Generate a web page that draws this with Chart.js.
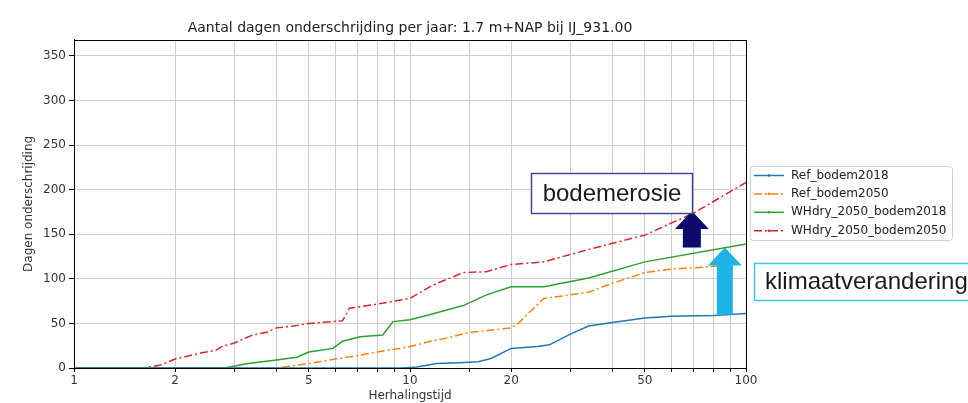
<!DOCTYPE html>
<html>
<head>
<meta charset="utf-8">
<script src="https://cdn.jsdelivr.net/npm/chart.js@4.4.0/dist/chart.umd.min.js"></script>
<style>
html,body{margin:0;padding:0;background:#fff;}
</style>
</head>
<body>
<canvas id="c" width="968" height="403"></canvas>
<script>
// chart texts
const titleText = 'Aantal dagen onderschrijding per jaar: 1.7 m+NAP bij IJ_931.00';
const xTitle = 'Herhalingstijd';
const yTitle = 'Dagen onderschrijding';
const seriesNames = ['Ref_bodem2018', 'Ref_bodem2050', 'WHdry_2050_bodem2018', 'WHdry_2050_bodem2050'];
const xTickLabels = [1, 2, 5, 10, 20, 50, 100];

// series values (return period -> days)
const ref2018X = [1, 9.5, 10.5, 12, 14, 16, 17.5, 20, 24, 26, 30, 34, 40, 50, 60, 80, 100];
const ref2018Y = [0, 0, 1, 5, 6, 7, 11, 22, 24, 26, 38, 47, 51, 56, 58, 59, 61];
const ref2050X = [1, 4, 5, 6, 7, 8, 9, 10, 11.5, 13, 15, 17, 20, 21, 25, 30, 34, 40, 50, 60, 75, 85];
const ref2050Y = [0, 0, 5, 10, 14, 18, 21, 24, 30, 34, 40, 42, 45, 50, 78, 82, 85, 95, 107, 111, 113, 115];
const whdry2018X = [1, 2.8, 3.3, 4, 4.6, 5, 5.9, 6.3, 7.1, 8.3, 8.9, 10, 11.5, 14.4, 16.9, 20, 25, 34, 50, 100];
const whdry2018Y = [0, 0, 5, 9, 12, 18, 22, 30, 35, 37, 52, 54, 60, 70, 82, 91, 91, 101, 119, 139];
const whdry2050X = [1, 1.6, 1.8, 2, 2.4, 2.65, 2.75, 3, 3.4, 3.75, 4, 4.5, 5, 6.3, 6.6, 7.8, 9.3, 10, 11.7, 14.4, 16.9, 20, 25, 34, 50, 70, 100];
const whdry2050Y = [0, 0, 3, 10, 17, 20, 24, 28, 37, 40, 45, 47, 50, 53, 67, 71, 76, 78, 93, 107, 108, 116, 119, 133, 149, 174, 208];

const colors = ['#1f77b4', '#ff7f0e', '#2ca02c', '#d62728'];
const dashes = [[], [8, 3, 2, 3], [], [8, 3, 2, 3]];

const toPoints = (xs, ys) => xs.map((x, i) => ({x: x, y: ys[i]}));
const allX = [ref2018X, ref2050X, whdry2018X, whdry2050X];
const allY = [ref2018Y, ref2050Y, whdry2018Y, whdry2050Y];

//Annotations (in data coordinates)
const arrows = [
    {x: 69, from: 135, to: 176, color: '#0b0b6b', sw: 9},
    {x: 86.5, from: 60, to: 135, color: '#1fb4e6', sw: 8}
];

const decor = {
    id: 'decor',
    afterDraw(chart) {
        const ctx = chart.ctx, a = chart.chartArea;
        const xs = chart.scales.x, ys = chart.scales.y;
        ctx.save();
        // frame
        ctx.strokeStyle = '#000';
        ctx.lineWidth = 1;
        ctx.strokeRect(Math.round(a.left) + 0.5, Math.round(a.top) + 0.5, Math.round(a.right - a.left), Math.round(a.bottom - a.top));

        // legend
        const lx = 750, ly = 166;
        ctx.fillStyle = 'rgba(255,255,255,0.9)';
        ctx.strokeStyle = '#d0d0d0';
        ctx.beginPath();
        ctx.roundRect(lx + 0.5, ly + 0.5, 202, 74, 3);
        ctx.fill(); ctx.stroke();
        ctx.font = '12px "DejaVu Sans"';
        ctx.textBaseline = 'middle';
        seriesNames.forEach((n, i) => {
            const y = ly + 9.5 + i * 18.4;
            ctx.strokeStyle = colors[i];
            ctx.lineWidth = 1.5;
            ctx.setLineDash(dashes[i]);
            ctx.beginPath(); ctx.moveTo(lx + 4, y); ctx.lineTo(lx + 34, y); ctx.stroke();
            ctx.setLineDash([]);
            ctx.fillStyle = colors[i];
            ctx.beginPath(); ctx.arc(lx + 19, y, 1.3, 0, Math.PI * 2); ctx.fill();
            ctx.fillStyle = '#222';
            ctx.fillText(n, lx + 41, y);
        });

        // arrows
        arrows.forEach(ar => {
            const cx = xs.getPixelForValue(ar.x);
            const yb = ys.getPixelForValue(ar.from), yt = ys.getPixelForValue(ar.to);
            const hw = 17, sw = ar.sw, hh = 18;
            ctx.fillStyle = ar.color;
            ctx.beginPath();
            ctx.moveTo(cx, yt);
            ctx.lineTo(cx + hw, yt + hh);
            ctx.lineTo(cx + sw, yt + hh);
            ctx.lineTo(cx + sw, yb);
            ctx.lineTo(cx - sw, yb);
            ctx.lineTo(cx - sw, yt + hh);
            ctx.lineTo(cx - hw, yt + hh);
            ctx.closePath();
            ctx.fill();
        });

        // text boxes
        ctx.font = '24px "Liberation Sans", Arial, sans-serif';
        ctx.textBaseline = 'middle';
        ctx.textAlign = 'center';
        let bx = 531, by = 173;
        ctx.fillStyle = '#fff';
        ctx.fillRect(bx, by, 161, 40);
        ctx.strokeStyle = '#45459a';
        ctx.lineWidth = 1.5;
        ctx.strokeRect(bx + 0.5, by + 0.5, 161, 40);
        ctx.fillStyle = '#1a1a1a';
        ctx.fillText('bodemerosie', bx + 81, by + 21);

        bx = 754; by = 263;
        ctx.fillStyle = '#fff';
        ctx.fillRect(bx, by, 230, 37);
        ctx.strokeStyle = '#3cc8ec';
        ctx.strokeRect(bx + 0.5, by + 0.5, 230, 37);
        ctx.fillStyle = '#1a1a1a';
        ctx.textAlign = 'left';
        ctx.fillText('klimaatverandering', 765, by + 19);
        ctx.restore();
    }
};

new Chart(document.getElementById('c'), {
    type: 'line',
    data: {
        datasets: seriesNames.map((n, i) => ({
            label: n,
            data: toPoints(allX[i], allY[i]),
            borderColor: colors[i],
            backgroundColor: colors[i],
            borderWidth: 1.5,
            borderDash: dashes[i],
            pointRadius: 0,
            pointHoverRadius: 0,
            tension: 0,
            clip: 3
        }))
    },
    options: {
        responsive: false,
        animation: false,
        layout: {padding: {left: 0, right: 222, top: 0, bottom: 0}},
        plugins: {
            legend: {display: false},
            tooltip: {enabled: false},
            title: {
                display: true,
                text: titleText,
                fullSize: false,
                color: '#222',
                font: {family: 'DejaVu Sans', size: 14, weight: 'normal'},
                padding: {top: 20, bottom: 3}
            }
        },
        scales: {
            x: {
                type: 'logarithmic',
                min: 1,
                max: 100,
                afterFit: (s) => { s.height = 35; },
                grid: {color: '#cccccc', tickLength: 4, tickColor: '#000'},
                border: {color: '#000'},
                ticks: {
                    autoSkip: false,
                    maxRotation: 0,
                    padding: 2,
                    color: '#333',
                    font: {family: 'DejaVu Sans', size: 12},
                    callback: (v) => xTickLabels.includes(v) ? String(v) : ''
                },
                title: {
                    display: true,
                    text: xTitle,
                    color: '#333',
                    font: {family: 'DejaVu Sans', size: 12},
                    padding: {top: 0, bottom: 0}
                }
            },
            y: {
                min: 0,
                max: 368,
                afterFit: (s) => { s.width = 74; },
                grid: {color: '#cccccc', tickLength: 5, tickColor: '#000'},
                border: {color: '#000'},
                ticks: {
                    stepSize: 50,
                    includeBounds: false,
                    padding: 3,
                    color: '#333',
                    font: {family: 'DejaVu Sans', size: 12}
                },
                title: {
                    display: true,
                    text: yTitle,
                    color: '#333',
                    font: {family: 'DejaVu Sans', size: 12},
                    padding: {top: 22, bottom: 0}
                }
            }
        }
    },
    plugins: [decor]
});
</script>
</body>
</html>
